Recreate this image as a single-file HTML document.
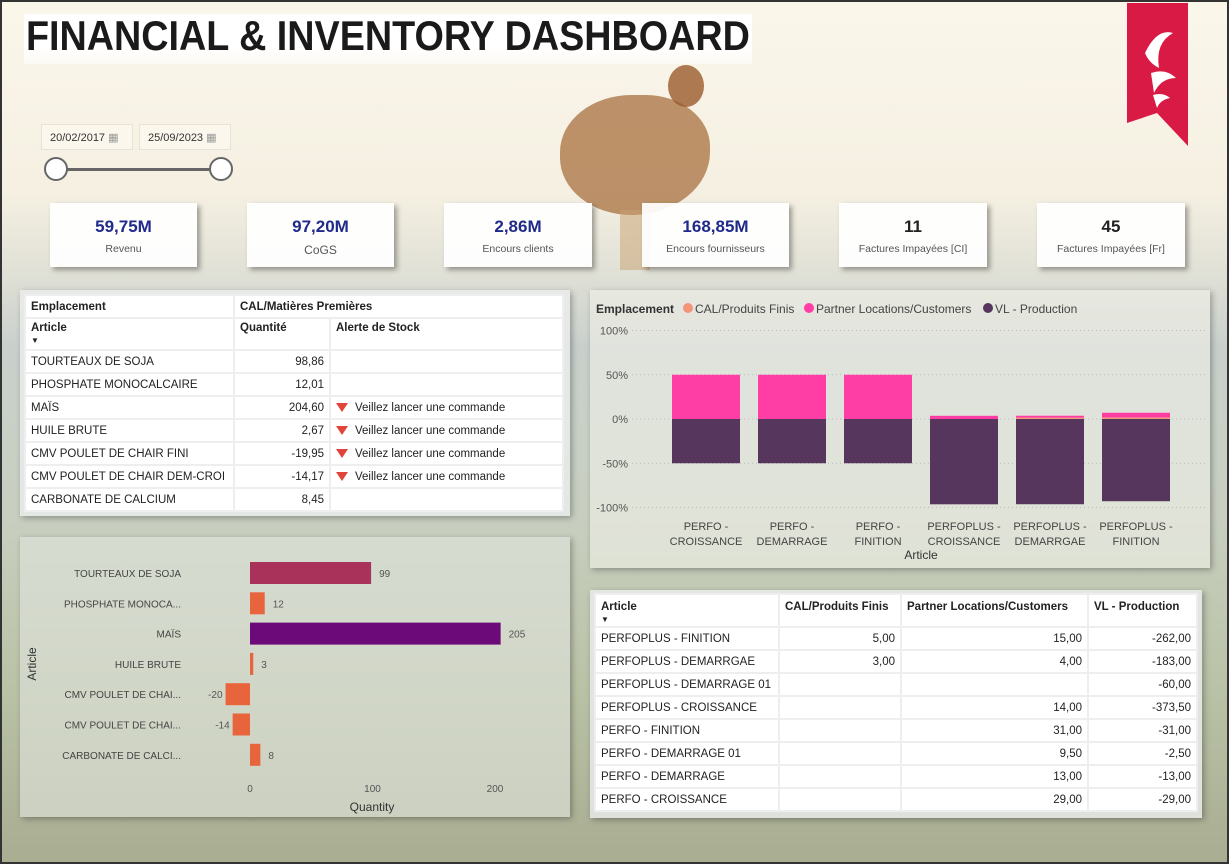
<!DOCTYPE html>
<html><head><meta charset="utf-8"><style>
*{box-sizing:border-box;margin:0;padding:0}
body{width:1229px;height:864px;overflow:hidden;font-family:"Liberation Sans","DejaVu Sans",sans-serif;position:relative;background:#f4efe0}
.abs{position:absolute}
.bg{position:absolute;left:0;top:0;width:1229px;height:864px;background:linear-gradient(180deg,#faf6ea 0%,#f5f0e2 22%,#e4e3d8 30%,#c9d0cc 40%,#c8cfc0 60%,#b9c2a6 80%,#a9ad92 100%);border:2px solid #333}
.card{position:absolute;background:rgba(255,255,255,.93);box-shadow:3px 3px 5px rgba(0,0,0,.35);text-align:center}
.card .v{font-size:17px;font-weight:bold;color:#1f2a8a;margin-top:14px}
.card .l{font-size:10.5px;color:#555;margin-top:6px}
.panel{position:absolute;background:rgba(255,255,255,.55);box-shadow:2px 2px 6px rgba(0,0,0,.3)}
table{border-collapse:collapse;font-size:11.5px;color:#222}
td{border:2px solid #eee;padding:0 5px;height:23px;white-space:nowrap;background:#fff}
th{border:2px solid #eee;padding:0 5px;text-align:left;font-weight:bold;background:#fff;font-size:11.5px;white-space:nowrap}
.r{text-align:right}
.tri{display:inline-block;width:0;height:0;border-left:6px solid transparent;border-right:6px solid transparent;border-top:9px solid #e0443a;margin-right:7px;vertical-align:-1px}
</style></head><body>
<div class="bg"></div>
<div class="abs" style="left:560px;top:95px;width:150px;height:120px;border-radius:50% 45% 55% 50%;background:#a8703f;opacity:.75"></div>
<div class="abs" style="left:668px;top:65px;width:36px;height:42px;border-radius:50%;background:#9a5a2c;opacity:.8"></div>
<div class="abs" style="left:620px;top:210px;width:30px;height:60px;background:#c8a070;opacity:.5"></div>

<div class="abs" style="left:24px;top:14px;width:728px;height:50px;background:linear-gradient(180deg,#fff 65%,rgba(255,255,255,.5))"></div>
<div id="title" class="abs" style="left:26px;top:14px;white-space:nowrap;font-family:'Liberation Sans',sans-serif;font-weight:bold;font-size:42px;line-height:44px;color:#1a1a1a;transform-origin:left top">FINANCIAL &amp; INVENTORY DASHBOARD</div>

<svg class="abs" style="left:1127px;top:3px" width="62" height="143"><path d="M0 0H61V143L30 110L0 120Z" fill="#d91a45"/><path d="M18 50q12-25 28-20q-18 10-14 35q-10-5-14-15z M24 70q15-5 25 5q-15 0-22 15z M26 92q10-3 17 3q-10 2-13 10z" fill="#fff"/></svg>

<div class="abs" style="left:41px;top:124px;width:92px;height:26px;background:#fbf7ec;border:1px solid #e6e2d6;font-size:11px;padding:6px 8px;color:#333">20/02/2017 <span style="color:#999">▦</span></div>
<div class="abs" style="left:139px;top:124px;width:92px;height:26px;background:#fbf7ec;border:1px solid #e6e2d6;font-size:11px;padding:6px 8px;color:#333">25/09/2023 <span style="color:#999">▦</span></div>
<div class="abs" style="left:55px;top:168px;width:167px;height:3px;background:#666"></div>
<div class="abs" style="left:44px;top:157px;width:24px;height:24px;border-radius:50%;background:#fff;border:2px solid #666"></div>
<div class="abs" style="left:209px;top:157px;width:24px;height:24px;border-radius:50%;background:#fff;border:2px solid #666"></div>

<div class="card" style="left:50px;top:203px;width:147px;height:64px"><div class="v">59,75M</div><div class="l">Revenu</div></div>
<div class="card" style="left:247px;top:203px;width:147px;height:64px"><div class="v">97,20M</div><div class="l" style="font-size:12px">CoGS</div></div>
<div class="card" style="left:444px;top:203px;width:148px;height:64px"><div class="v">2,86M</div><div class="l">Encours clients</div></div>
<div class="card" style="left:642px;top:203px;width:147px;height:64px"><div class="v">168,85M</div><div class="l">Encours fournisseurs</div></div>
<div class="card" style="left:839px;top:203px;width:148px;height:64px"><div class="v" style="color:#222">11</div><div class="l">Factures Impayées [CI]</div></div>
<div class="card" style="left:1037px;top:203px;width:148px;height:64px"><div class="v" style="color:#222">45</div><div class="l">Factures Impayées [Fr]</div></div>

<div class="panel" style="left:20px;top:290px;width:550px;height:226px;background:rgba(235,238,238,.8)">
<table style="position:absolute;left:4px;top:4px;width:540px">
<tr style="height:23px"><th>Emplacement</th><th colspan="2">CAL/Matières Premières</th></tr>
<tr style="height:32px;vertical-align:top"><th style="padding-top:3px">Article<br><span style="font-size:8px">▼</span></th><th style="padding-top:3px">Quantité</th><th style="padding-top:3px">Alerte de Stock</th></tr>
<tr><td style="width:209px">TOURTEAUX DE SOJA</td><td class="r" style="width:96px">98,86</td><td></td></tr>
<tr><td>PHOSPHATE MONOCALCAIRE</td><td class="r">12,01</td><td></td></tr>
<tr><td>MAÏS</td><td class="r">204,60</td><td><span class="tri"></span>Veillez lancer une commande</td></tr>
<tr><td>HUILE BRUTE</td><td class="r">2,67</td><td><span class="tri"></span>Veillez lancer une commande</td></tr>
<tr><td>CMV POULET DE CHAIR FINI</td><td class="r">-19,95</td><td><span class="tri"></span>Veillez lancer une commande</td></tr>
<tr><td>CMV POULET DE CHAIR DEM-CROI</td><td class="r">-14,17</td><td><span class="tri"></span>Veillez lancer une commande</td></tr>
<tr><td>CARBONATE DE CALCIUM</td><td class="r">8,45</td><td></td></tr>
</table></div>

<div class="panel" style="left:590px;top:290px;width:620px;height:278px;background:rgba(240,240,232,.6)"></div>
<svg id="stack" class="abs" style="left:0;top:0" width="1229" height="864"></svg>

<div class="panel" style="left:20px;top:537px;width:550px;height:280px;background:rgba(225,228,222,.6)"></div>
<svg id="hbar" class="abs" style="left:0;top:0" width="1229" height="864"></svg>

<div class="panel" style="left:590px;top:590px;width:612px;height:228px;background:rgba(235,238,238,.8)">
<table style="position:absolute;left:4px;top:3px;width:604px">
<tr style="height:33px;vertical-align:top"><th style="padding-top:6px;width:184px">Article<br><span style="font-size:8px">▼</span></th><th style="padding-top:6px;width:122px">CAL/Produits Finis</th><th style="padding-top:6px;width:187px">Partner Locations/Customers</th><th style="padding-top:6px">VL - Production</th></tr>
<tr><td>PERFOPLUS - FINITION</td><td class="r">5,00</td><td class="r">15,00</td><td class="r">-262,00</td></tr>
<tr><td>PERFOPLUS - DEMARRGAE</td><td class="r">3,00</td><td class="r">4,00</td><td class="r">-183,00</td></tr>
<tr><td>PERFOPLUS - DEMARRAGE 01</td><td></td><td></td><td class="r">-60,00</td></tr>
<tr><td>PERFOPLUS - CROISSANCE</td><td></td><td class="r">14,00</td><td class="r">-373,50</td></tr>
<tr><td>PERFO - FINITION</td><td></td><td class="r">31,00</td><td class="r">-31,00</td></tr>
<tr><td>PERFO - DEMARRAGE 01</td><td></td><td class="r">9,50</td><td class="r">-2,50</td></tr>
<tr><td>PERFO - DEMARRAGE</td><td></td><td class="r">13,00</td><td class="r">-13,00</td></tr>
<tr><td>PERFO - CROISSANCE</td><td></td><td class="r">29,00</td><td class="r">-29,00</td></tr>
</table></div>

<script>
const stackCats=[["PERFO -","CROISSANCE"],["PERFO -","DEMARRAGE"],["PERFO -","FINITION"],["PERFOPLUS -","CROISSANCE"],["PERFOPLUS -","DEMARRGAE"],["PERFOPLUS -","FINITION"]];
const calFinis=[0,0,0,0,3,5];
const partner=[29,13,31,14,4,15];
const vlProd=[-29,-13,-31,-373.5,-183,-262];
const pctTicks=[100,50,0,-50,-100];
const hbarCats=["TOURTEAUX DE SOJA","PHOSPHATE MONOCA...","MAÏS","HUILE BRUTE","CMV POULET DE CHAI...","CMV POULET DE CHAI...","CARBONATE DE CALCI..."];
const hbarVals=[98.86,12.01,204.6,2.67,-19.95,-14.17,8.45];
const hbarLabels=["99","12","205","3","-20","-14","8"];
const qtyTicks=[0,100,200];

const ttl=document.getElementById('title');
ttl.style.transform='scaleX('+(724/ttl.offsetWidth)+')';

const NS="http://www.w3.org/2000/svg";
function mk(svg,tag,a,txt){const e=document.createElementNS(NS,tag);for(const k in a)e.setAttribute(k,a[k]);if(txt!==undefined)e.textContent=txt;svg.appendChild(e);return e;}
const S=document.getElementById('stack');
const yS=p=>419-p*0.885;
const xS=i=>706+i*86;
let t=mk(S,'text',{x:596,y:313,'font-size':12,'font-weight':'bold',fill:'#333'},'Emplacement');

const leg=[["CAL/Produits Finis","#f4957a",688],["Partner Locations/Customers","#ff3ea5",809],["VL - Production","#56365c",988]];
leg.forEach(l=>{let c=mk(S,'circle',{cx:l[2],cy:308,r:5,fill:l[1]});

let tt=mk(S,'text',{x:l[2]+7,y:313,'font-size':12,fill:'#444'},l[0]);
});
pctTicks.forEach(p=>{let g=mk(S,'line',{x1:632,x2:1205,y1:yS(p),y2:yS(p),stroke:'#bbb','stroke-dasharray':'1 3'});

let tt=mk(S,'text',{x:628,y:yS(p)+4,'font-size':11,fill:'#555','text-anchor':'end'},p+'%');
});
stackCats.forEach((c,i)=>{const tot=calFinis[i]+partner[i]+Math.abs(vlProd[i]);
const pc=calFinis[i]/tot*100,pp=partner[i]/tot*100,pv=Math.abs(vlProd[i])/tot*100;const x=xS(i)-34;
let b=mk(S,'rect',{x:x,y:yS(0),width:68,height:yS(-pv)-yS(0),fill:'#56365c'});

if(pc>0){b=mk(S,'rect',{x:x,y:yS(pc),width:68,height:yS(0)-yS(pc),fill:'#f4957a'});
}
b=mk(S,'rect',{x:x,y:yS(pc+pp),width:68,height:yS(pc)-yS(pc+pp),fill:'#ff3ea5'});

c.forEach((s,j)=>{let tt=mk(S,'text',{x:xS(i),y:530+j*15,'font-size':11,fill:'#444','text-anchor':'middle'},s);
});});
t=mk(S,'text',{x:921,y:559,'font-size':12,fill:'#333','text-anchor':'middle'},'Article');

const H=document.getElementById('hbar');
const xH=v=>250+v*1.225;const yH=i=>573+i*30.3;
const colors=["#a8325a","#e8643c","#6b0a78","#e8643c","#e8643c","#e8643c","#e8643c"];
hbarCats.forEach((c,i)=>{const v=hbarVals[i];const x0=Math.min(xH(0),xH(v));
let b=mk(H,'rect',{x:x0,y:yH(i)-11,width:Math.abs(xH(v)-xH(0)),height:22,fill:colors[i]});

let tt=mk(H,'text',{x:181,y:yH(i)+4,'font-size':10,fill:'#444','text-anchor':'end'},c);

const lx=v>=0?xH(v)+8:xH(v)-3;
tt=mk(H,'text',{x:lx,y:yH(i)+4,'font-size':10,fill:'#555','text-anchor':v>=0?'start':'end'},hbarLabels[i]);
});
qtyTicks.forEach(q=>{let tt=mk(H,'text',{x:xH(q),y:792,'font-size':10,fill:'#555','text-anchor':'middle'},String(q));
});
t=mk(H,'text',{x:372,y:811,'font-size':12,fill:'#333','text-anchor':'middle'},'Quantity');

t=mk(H,'text',{x:36,y:664,'font-size':12,fill:'#333','text-anchor':'middle',transform:'rotate(-90 36 664)'},'Article');

</script>
</body></html>
